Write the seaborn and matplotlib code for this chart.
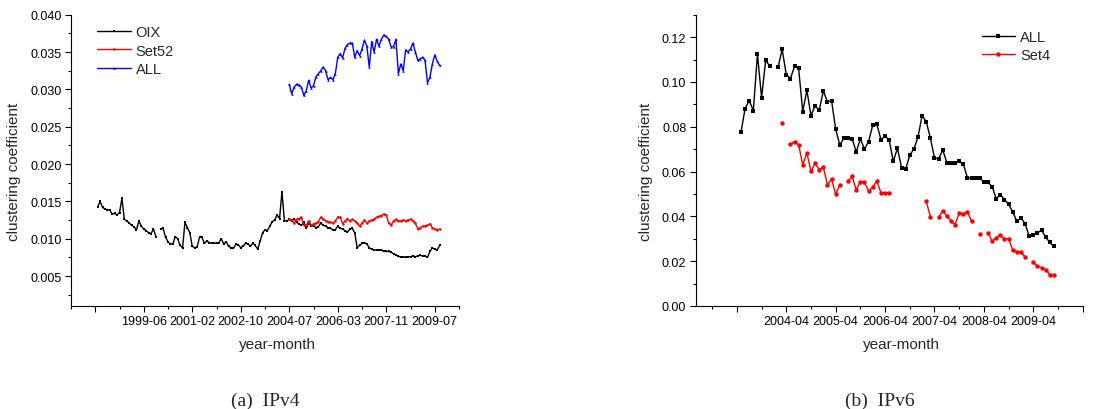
import numpy as np
import pandas as pd
import seaborn as sns
import matplotlib
matplotlib.use('Agg')
from matplotlib import pyplot as plt
from matplotlib.ticker import MultipleLocator, FormatStrFormatter

nan = np.nan

# (a) IPv4 -- month index, 0 = 1996-12
oix_start = 11
oix = [
    0.0143, 0.0150, 0.0142, 0.0140, 0.0139, 0.0138, 0.0133, 0.0134, 0.0132, 0.0135,
    0.0154, 0.0126, 0.0124, 0.0121, 0.0118, 0.0116, 0.0112, 0.0124, 0.0117, 0.0113,
    0.0111, 0.0108, 0.0107, 0.0113, 0.0103, nan, 0.0113, 0.0114, 0.0102, 0.0096,
    0.0093, 0.0093, 0.0103, 0.0100, 0.0091, 0.0088, 0.0122, 0.0115, 0.0108, 0.0090,
    0.0088, 0.0089, 0.0102, 0.0102, 0.0094, 0.0097, 0.0095, 0.0094, 0.0094, 0.0094,
    0.0095, 0.0100, 0.0093, 0.0096, 0.0090, 0.0088, 0.0087, 0.0093, 0.0092, 0.0088,
    0.0090, 0.0094, 0.0093, 0.0090, 0.0094, 0.0091, 0.0086, 0.0097, 0.0108, 0.0112,
    0.0111, 0.0117, 0.0123, 0.0125, 0.0132, 0.0127, 0.0163, 0.0124, 0.0124, 0.0126,
    0.0124, 0.0127, 0.0122, 0.0120, 0.0118, 0.0122, 0.0114, 0.0121, 0.0117, 0.0117,
    0.0115, 0.0116, 0.0121, 0.0118, 0.0117, 0.0115, 0.0114, 0.0112, 0.0112, 0.0117,
    0.0114, 0.0113, 0.0111, 0.0109, 0.0113, 0.0114, 0.0108, 0.0088, 0.0091, 0.0094,
    0.0095, 0.0093, 0.0088, 0.0086, 0.0085, 0.0085, 0.0085, 0.0085, 0.0083, 0.0083,
    0.0083, 0.0082, 0.0080, 0.0078, 0.0077, 0.0075, 0.0076, 0.0075, 0.0076, 0.0076,
    0.0077, 0.0076, 0.0077, 0.0078, 0.0077, 0.0077, 0.0075, 0.0083, 0.0088, 0.0086,
    0.0085, 0.0091,
]
set52_start = 90
set52 = [
    0.0127, 0.0125, 0.0121, 0.0126, 0.0127, 0.0129, 0.0118, 0.0118, 0.0124, 0.0118,
    0.0120, 0.0121, 0.0123, 0.0129, 0.0126, 0.0124, 0.0123, 0.0122, 0.0121, 0.0124,
    0.0129, 0.0129, 0.0120, 0.0124, 0.0127, 0.0124, 0.0126, 0.0124, 0.0121, 0.0117,
    0.0121, 0.0125, 0.0121, 0.0124, 0.0125, 0.0126, 0.0129, 0.0130, 0.0131, 0.0133,
    0.0132, 0.0121, 0.0118, 0.0124, 0.0126, 0.0124, 0.0124, 0.0125, 0.0124, 0.0125,
    0.0126, 0.0124, 0.0121, 0.0113, 0.0115, 0.0117, 0.0117, 0.0118, 0.0120, 0.0115,
    0.0113, 0.0112, 0.0113,
]
all4_start = 90
all4 = [
    0.0307, 0.0294, 0.0303, 0.0307, 0.0306, 0.0303, 0.0292, 0.0298, 0.0312, 0.0302,
    0.0305, 0.0317, 0.0321, 0.0325, 0.0330, 0.0325, 0.0313, 0.0316, 0.0313, 0.0321,
    0.0343, 0.0348, 0.0342, 0.0355, 0.0360, 0.0362, 0.0362, 0.0343, 0.0352, 0.0345,
    0.0354, 0.0366, 0.0358, 0.0330, 0.0364, 0.0350, 0.0367, 0.0358, 0.0367, 0.0373,
    0.0371, 0.0367, 0.0357, 0.0357, 0.0367, 0.0321, 0.0334, 0.0325, 0.0353, 0.0350,
    0.0354, 0.0362, 0.0350, 0.0339, 0.0341, 0.0343, 0.0339, 0.0309, 0.0316, 0.0334,
    0.0346, 0.0338, 0.0332,
]
ipv4_ticks = [10, 30, 50, 70, 90, 110, 130, 150]
ipv4_labels = ['', '1999-06', '2001-02', '2002-10', '2004-07', '2006-03', '2007-11', '2009-07']
ipv4_minor = [0, 20, 40, 60, 80, 100, 120, 140, 160]

# (b) IPv6 -- month index, 0 = 2002-06
all6_start = 11
all6 = [
    0.0776, 0.0881, 0.0917, 0.0872, 0.1124, 0.0930, 0.1097, 0.1070, nan,
    0.1066, 0.1145, 0.1033, 0.1015, 0.1069, 0.1060, 0.0868, 0.0963, 0.0850, 0.0893,
    0.0874, 0.0960, 0.0911, 0.0916, 0.0789, 0.0719, 0.0749, 0.0749, 0.0746, 0.0688,
    0.0746, 0.0700, 0.0734, 0.0807, 0.0810, 0.0743, 0.0758, 0.0740, 0.0646, 0.0704,
    0.0618, 0.0610, 0.0674, 0.0700, 0.0755, 0.0850, 0.0823, 0.0749, 0.0662, 0.0655,
    0.0697, 0.0640, 0.0640, 0.0637, 0.0645, 0.0633, 0.0573, 0.0570, 0.0570, 0.0573,
    0.0552, 0.0552, 0.0533, 0.0479, 0.0497, 0.0475, 0.0454, 0.0420, 0.0378, 0.0393,
    0.0368, 0.0311, 0.0319, 0.0325, 0.0339, 0.0307, 0.0284, 0.0266,
]
set4_start = 21
set4 = [
    0.0816, nan,
    0.0721, 0.0734, 0.0719, 0.0630, 0.0683, 0.0601, 0.0636, 0.0609, 0.0619, 0.0542,
    0.0566, 0.0499, 0.0540, nan,
    0.0558, 0.0578, 0.0518, 0.0554, 0.0552, 0.0512, 0.0531, 0.0558, 0.0505, 0.0505,
    0.0505, nan, nan, nan, nan, nan, nan, nan, nan,
    0.0467, 0.0399, nan,
    0.0395, 0.0426, 0.0402, 0.0381, 0.0363, 0.0415, 0.0412, 0.0421, 0.0378, nan,
    0.0323, nan,
    0.0328, 0.0289, 0.0304, 0.0316, 0.0299, 0.0301, 0.0250, 0.0243, 0.0240, 0.0220, nan,
    0.0195, 0.0177, 0.0171, 0.0162, 0.0140, 0.0137,
]
ipv6_ticks = [10, 22, 34, 46, 58, 70, 82, 94]
ipv6_labels = ['', '2004-04', '2005-04', '2006-04', '2007-04', '2008-04', '2009-04', '']
ipv6_minor = [4, 16, 28, 40, 52, 64, 76, 88]


def to_frame(series):
    # one row per point, a new segment id after every gap
    rows = []
    for name, start, vals in series:
        seg = 0
        for i, v in enumerate(vals):
            if np.isnan(v):
                seg += 1
                continue
            rows.append((name, f'{name}-{seg}', start + i, v))
    return pd.DataFrame(rows, columns=['series', 'seg', 'month', 'cc'])


df4 = to_frame([('OIX', oix_start, oix), ('Set52', set52_start, set52), ('ALL', all4_start, all4)])
df6 = to_frame([('ALL', all6_start, all6), ('Set4', set4_start, set4)])

sns.set_style('ticks')
plt.rcParams['font.family'] = ['Liberation Sans', 'DejaVu Sans']
plt.rcParams.update({
    'axes.linewidth': 0.8, 'axes.edgecolor': 'black',
    'xtick.major.size': 4.3, 'ytick.major.size': 4.3,
    'xtick.minor.size': 2.5, 'ytick.minor.size': 2.5,
    'xtick.major.width': 0.8, 'ytick.major.width': 0.8,
    'xtick.minor.width': 0.8, 'ytick.minor.width': 0.8,
    'xtick.color': 'black', 'ytick.color': 'black',
    'xtick.labelsize': 9, 'ytick.labelsize': 9,
    'xtick.major.pad': 2.5, 'ytick.major.pad': 2.5,
})

fig = plt.figure(figsize=(11.04, 4.10), dpi=100)
ax1 = fig.add_axes([71 / 1104, 103 / 410, 388 / 1104, 291.3 / 410])
ax2 = fig.add_axes([695.7 / 1104, 103 / 410, 387 / 1104, 291.3 / 410])

sns.lineplot(data=df4, x='month', y='cc', hue='series', style='series', units='seg',
             estimator=None, hue_order=['OIX', 'Set52', 'ALL'], style_order=['OIX', 'Set52', 'ALL'],
             palette={'OIX': 'black', 'Set52': '#ff0000', 'ALL': '#0000ff'},
             markers={'OIX': 's', 'Set52': 'o', 'ALL': '^'}, dashes=False,
             lw=1.0, markersize=1.8, mew=0, ax=ax1)
sns.lineplot(data=df6, x='month', y='cc', hue='series', style='series', units='seg',
             estimator=None, hue_order=['ALL', 'Set4'], style_order=['ALL', 'Set4'],
             palette={'ALL': 'black', 'Set4': '#ff0000'},
             markers={'ALL': 's', 'Set4': 'o'}, dashes=False,
             lw=1.0, markersize=3.2, mew=0, ax=ax2)

# axes (a)
ax1.set_xlim(0, 160)
ax1.set_ylim(0.001, 0.040)
ax1.set_xticks(ipv4_ticks, ipv4_labels)
ax1.set_xticks(ipv4_minor, minor=True)
ax1.yaxis.set_major_locator(MultipleLocator(0.005))
ax1.yaxis.set_minor_locator(MultipleLocator(0.0025))
ax1.yaxis.set_major_formatter(FormatStrFormatter('%.3f'))

# axes (b)
ax2.set_xlim(0, 94)
ax2.set_ylim(0, 0.13)
ax2.set_xticks(ipv6_ticks, ipv6_labels)
ax2.set_xticks(ipv6_minor, minor=True)
ax2.yaxis.set_major_locator(MultipleLocator(0.02))
ax2.yaxis.set_minor_locator(MultipleLocator(0.01))
ax2.yaxis.set_major_formatter(FormatStrFormatter('%.2f'))

legend_pos = {ax1: (0.052, 0.984), ax2: (0.724, 0.968)}
for ax in (ax1, ax2):
    sns.despine(ax=ax)
    ax.set_xlabel('year-month', fontsize=11)
    ax.set_ylabel('clustering coefficient', fontsize=11)
    ax.xaxis.set_label_coords(0.531, -0.105)
    old = ax.get_legend()
    handles = old.legend_handles
    labels = [t.get_text() for t in old.texts]
    ax.legend(handles, labels, loc='upper left', bbox_to_anchor=legend_pos[ax],
              frameon=False, fontsize=10.5, handlelength=2.3, handletextpad=0.35,
              labelspacing=0.3, borderaxespad=0)
ax1.yaxis.set_label_coords(-0.129, 0.463)
ax2.yaxis.set_label_coords(-0.110, 0.463)

fig.text(265 / 1104, 1 - 401 / 410, '(a)  IPv4', family='Liberation Serif', fontsize=14,
         ha='center', va='center')
fig.text(880 / 1104, 1 - 401 / 410, '(b)  IPv6', family='Liberation Serif', fontsize=14,
         ha='center', va='center')

fig.savefig('out.png', dpi=100)
